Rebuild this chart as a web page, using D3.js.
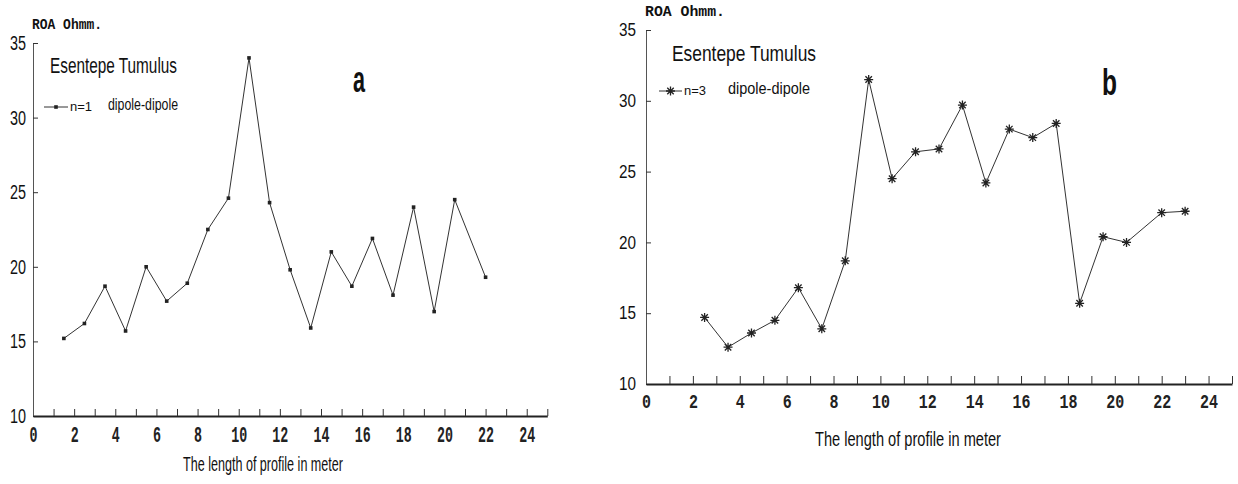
<!DOCTYPE html>
<html lang="en">
<head>
<meta charset="UTF-8">
<title>Esentepe Tumulus</title>
<style>
    body { margin: 0; background: #fff; }
    svg { display: block; }
</style>
</head>
<body>
<div id="wrapper"></div>
<script src="https://d3js.org/d3.v7.min.js"></script>
<script>
    // data
    const xA = [1.5, 2.5, 3.5, 4.5, 5.5, 6.5, 7.5, 8.5, 9.5, 10.5, 11.5, 12.5, 13.5, 14.5, 15.5, 16.5, 17.5, 18.5, 19.5, 20.5, 22];
    const yA = [15.2, 16.2, 18.7, 15.7, 20.0, 17.7, 18.9, 22.5, 24.6, 34.0, 24.3, 19.8, 15.9, 21.0, 18.7, 21.9, 18.1, 24.0, 17.0, 24.5, 19.3];
    const xB = [2.5, 3.5, 4.5, 5.5, 6.5, 7.5, 8.5, 9.5, 10.5, 11.5, 12.5, 13.5, 14.5, 15.5, 16.5, 17.5, 18.5, 19.5, 20.5, 22, 23];
    const yB = [14.7, 12.6, 13.6, 14.5, 16.8, 13.9, 18.7, 31.5, 24.5, 26.4, 26.6, 29.7, 24.2, 28.0, 27.4, 28.4, 15.7, 20.4, 20.0, 22.1, 22.2];

    const yTicks = [10, 15, 20, 25, 30, 35];
    const xLabelTicks = [0, 2, 4, 6, 8, 10, 12, 14, 16, 18, 20, 22, 24];
    const xMinorTicks = d3.range(1, 26);

    const yTitle = 'ROA Ohmm.';
    const chartTitle = 'Esentepe Tumulus';
    const xTitle = 'The length of profile in meter';
    const methodText = 'dipole-dipole';

    const W = 1238, H = 484;
    const svg = d3.select('#wrapper').append('svg')
        .attr('width', W)
        .attr('height', H);
    svg.append('rect').attr('width', W).attr('height', H).attr('fill', '#fff');

    const SANS = 'Liberation Sans, Arial, sans-serif';
    const MONO = 'Liberation Mono, DejaVu Sans Mono, monospace';

    function addText(g, o) {
        g.append('text')
            .attr('x', o.x)
            .attr('y', o.y)
            .attr('font-family', o.family || SANS)
            .attr('font-size', o.size)
            .attr('font-weight', o.weight || 'normal')
            .attr('fill', '#111')
            .attr('textLength', o.len)
            .attr('lengthAdjust', 'spacingAndGlyphs')
            .text(o.text);
    }

    function asterisk(r) {
        const d = r * 0.72;
        return `M${-r},0L${r},0M0,${-r}L0,${r}M${-d},${-d}L${d},${d}M${-d},${d}L${d},${-d}`;
    }

    function drawPanel(c, xs, ys) {
        const g = svg.append('g');

        const xScale = d3.scaleLinear().domain([0, 25]).range([c.x0, c.x1]);
        const yScale = d3.scaleLinear().domain([10, 35]).range([c.y0, c.y1]);

        // y axis, ticks pointing inwards
        const yAxis = d3.axisLeft(yScale)
            .tickValues(yTicks)
            .tickSizeInner(-5)
            .tickSizeOuter(0)
            .tickPadding(c.yPad);
        const gy = g.append('g').attr('transform', `translate(${c.x0},0)`).call(yAxis);
        gy.select('.domain').attr('stroke', '#555');
        gy.selectAll('.tick line').attr('stroke', '#333');
        gy.selectAll('.tick text')
            .attr('font-family', SANS)
            .attr('font-size', c.yFont)
            .attr('fill', '#111')
            .attr('textLength', d => String(d).length * c.yCharW)
            .attr('lengthAdjust', 'spacingAndGlyphs');

        // x axis minor ticks
        const gxm = g.append('g').attr('transform', `translate(0,${c.y0})`)
            .call(d3.axisBottom(xScale).tickValues(xMinorTicks).tickFormat('')
                .tickSizeInner(-c.xTick).tickSizeOuter(0));
        gxm.select('.domain').attr('stroke', '#222').attr('stroke-width', 2);
        gxm.selectAll('.tick line').attr('stroke', '#333');

        // x axis labels
        const gxl = g.append('g').attr('transform', `translate(0,${c.y0})`)
            .call(d3.axisBottom(xScale).tickValues(xLabelTicks).tickSize(0).tickPadding(c.xPad));
        gxl.select('.domain').remove();
        gxl.selectAll('.tick text')
            .attr('font-family', MONO)
            .attr('font-weight', 'bold')
            .attr('font-size', c.xFont)
            .attr('fill', '#222')
            .attr('textLength', d => String(d).length * c.xCharW)
            .attr('lengthAdjust', 'spacingAndGlyphs');

        // profile line
        const pts = xs.map((x, i) => [x, ys[i]]);
        const line = d3.line().x(d => xScale(d[0])).y(d => yScale(d[1]));
        g.append('path')
            .attr('d', line(pts))
            .attr('fill', 'none')
            .attr('stroke', '#333')
            .attr('stroke-width', 1);

        // markers
        const marker = (sel) => {
            if (c.marker === 'dot') {
                sel.append('rect')
                    .attr('x', -1.8).attr('y', -1.8)
                    .attr('width', 3.6).attr('height', 3.6)
                    .attr('fill', '#222');
            } else {
                sel.append('path')
                    .attr('d', asterisk(4.5))
                    .attr('stroke', '#222')
                    .attr('stroke-width', 1.3)
                    .attr('fill', 'none');
            }
        };
        g.selectAll('.pt').data(pts).join('g')
            .attr('class', 'pt')
            .attr('transform', d => `translate(${xScale(d[0])},${yScale(d[1])})`)
            .call(marker);

        // texts
        addText(g, { x: c.roa[0], y: c.roa[1], text: yTitle, size: 15, len: c.roa[2], family: MONO, weight: 'bold' });
        addText(g, { x: c.title[0], y: c.title[1], text: chartTitle, size: 22, len: c.title[2] });
        addText(g, { x: c.xTitle[0], y: c.xTitle[1], text: xTitle, size: c.xTitle[3], len: c.xTitle[2] });
        addText(g, { x: c.letter[0], y: c.letter[1], text: c.letterText, size: 36, len: c.letter[2], weight: 'bold' });

        // legend
        const lg = g.append('g').attr('transform', `translate(${c.legend[0]},${c.legend[1]})`);
        lg.append('line').attr('x1', 0).attr('x2', c.legend[2]).attr('y1', 0).attr('y2', 0)
            .attr('stroke', '#333');
        lg.append('g').attr('transform', `translate(${c.legend[2] / 2},0)`).call(marker);
        addText(lg, { x: c.legend[2] + 2, y: 4, text: c.nText, size: 12, len: c.nLen });
        addText(lg, { x: c.dipX, y: 3, text: methodText, size: 16, len: c.dipLen });
    }

    drawPanel({
        x0: 33, x1: 547.3, y0: 416, y1: 43,
        yPad: 7, yFont: 20, yCharW: 8,
        xTick: 7, xPad: 10, xFont: 22, xCharW: 8,
        marker: 'dot',
        roa: [32, 29, 70],
        title: [50, 73, 127],
        xTitle: [183, 471, 160, 21],
        letter: [353, 92, 12], letterText: 'a',
        legend: [44, 107, 24], nText: 'n=1', nLen: 22, dipX: 64, dipLen: 70
    }, xA, yA);

    drawPanel({
        x0: 646, x1: 1232, y0: 384, y1: 30,
        yPad: 10, yFont: 18, yCharW: 8.5,
        xTick: 8, xPad: 10, xFont: 20, xCharW: 9,
        marker: 'star',
        roa: [645, 16, 80],
        title: [672, 61, 144],
        xTitle: [815, 446, 186, 20],
        letter: [1102, 95, 15], letterText: 'b',
        legend: [659, 91, 23], nText: 'n=3', nLen: 22, dipX: 69, dipLen: 82
    }, xB, yB);
</script>
</body>
</html>
